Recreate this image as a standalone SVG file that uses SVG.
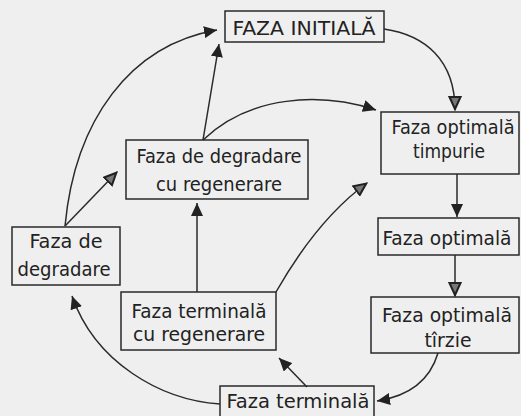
<svg xmlns="http://www.w3.org/2000/svg" width="521" height="416" viewBox="0 0 521 416">
<defs>
<style>
.box{fill:none;stroke:#2a2a2a;stroke-width:1.5}
.t{font-family:"DejaVu Sans Condensed","DejaVu Sans",sans-serif;font-size:19px;fill:#222;text-anchor:middle}
.c{fill:none;stroke:#2a2a2a;stroke-width:1.5}
</style>
<marker id="af" markerUnits="userSpaceOnUse" markerWidth="14" markerHeight="12" refX="13" refY="6" orient="auto">
<path d="M0,0 L13,6 L0,12 z" fill="#222"/>
</marker>
<marker id="ao" markerUnits="userSpaceOnUse" markerWidth="16" markerHeight="14" refX="14" refY="7" orient="auto">
<path d="M1,1.5 L13,7 L1,12.5 z" fill="#777" stroke="#222" stroke-width="2"/>
</marker>
</defs>
<rect width="521" height="416" fill="#efefef"/>
<g id="connectors">
<path class="c" d="M65,226 C75,120 130,45 217,30" marker-end="url(#af)"/>
<path class="c" d="M203,140 L219,44" marker-end="url(#af)"/>
<path class="c" d="M203,140 C250,95 320,92 376,110" marker-end="url(#af)"/>
<path class="c" d="M384,29 C425,35 455,60 455,110" marker-end="url(#ao)"/>
<path class="c" d="M457,174 L457,217" marker-end="url(#af)"/>
<path class="c" d="M455,255 L455,296" marker-end="url(#ao)"/>
<path class="c" d="M438,353 C430,380 410,396 377,401" marker-end="url(#af)"/>
<path class="c" d="M307,387 L279,358" marker-end="url(#af)"/>
<path class="c" d="M220,404 C160,400 95,362 72,296" marker-end="url(#af)"/>
<path class="c" d="M197,292 L197,203" marker-end="url(#af)"/>
<path class="c" d="M276,292 C300,250 330,210 367,183" marker-end="url(#ao)"/>
<path class="c" d="M65,226 L117,172" marker-end="url(#ao)"/>
</g>
<g id="faza-initiala">
<rect class="box" x="225" y="11" width="159" height="31"/>
<text class="t" x="304" y="35" textLength="143" lengthAdjust="spacingAndGlyphs">FAZA INITIALĂ</text>
</g>
<g id="faza-optimala-timpurie">
<rect class="box" x="381" y="112" width="138" height="62"/>
<text class="t" x="453" y="134" textLength="123" lengthAdjust="spacingAndGlyphs">Faza optimală</text>
<text class="t" x="449" y="158" textLength="72" lengthAdjust="spacingAndGlyphs">timpurie</text>
</g>
<g id="faza-optimala">
<rect class="box" x="378" y="218" width="141" height="37"/>
<text class="t" x="447" y="245" textLength="129" lengthAdjust="spacingAndGlyphs">Faza optimală</text>
</g>
<g id="faza-optimala-tirzie">
<rect class="box" x="371" y="297" width="148" height="56"/>
<text class="t" x="447" y="322" textLength="130" lengthAdjust="spacingAndGlyphs">Faza optimală</text>
<text class="t" x="448" y="347" textLength="47" lengthAdjust="spacingAndGlyphs">tîrzie</text>
</g>
<g id="faza-terminala">
<rect class="box" x="220" y="386" width="154" height="34"/>
<text class="t" x="298" y="408" textLength="143" lengthAdjust="spacingAndGlyphs">Faza terminală</text>
</g>
<g id="faza-terminala-cu-regenerare">
<rect class="box" x="121" y="292" width="155" height="58"/>
<text class="t" x="199" y="318" textLength="135" lengthAdjust="spacingAndGlyphs">Faza terminală</text>
<text class="t" x="199" y="341" textLength="132" lengthAdjust="spacingAndGlyphs">cu regenerare</text>
</g>
<g id="faza-degradare-cu-regenerare">
<rect class="box" x="126" y="140" width="182" height="59"/>
<text class="t" x="219" y="163" textLength="165" lengthAdjust="spacingAndGlyphs">Faza de degradare</text>
<text class="t" x="219" y="191" textLength="126" lengthAdjust="spacingAndGlyphs">cu regenerare</text>
</g>
<g id="faza-de-degradare">
<rect class="box" x="12" y="227" width="108" height="58"/>
<text class="t" x="66" y="248" textLength="73" lengthAdjust="spacingAndGlyphs">Faza de</text>
<text class="t" x="64" y="276" textLength="93" lengthAdjust="spacingAndGlyphs">degradare</text>
</g>
</svg>
